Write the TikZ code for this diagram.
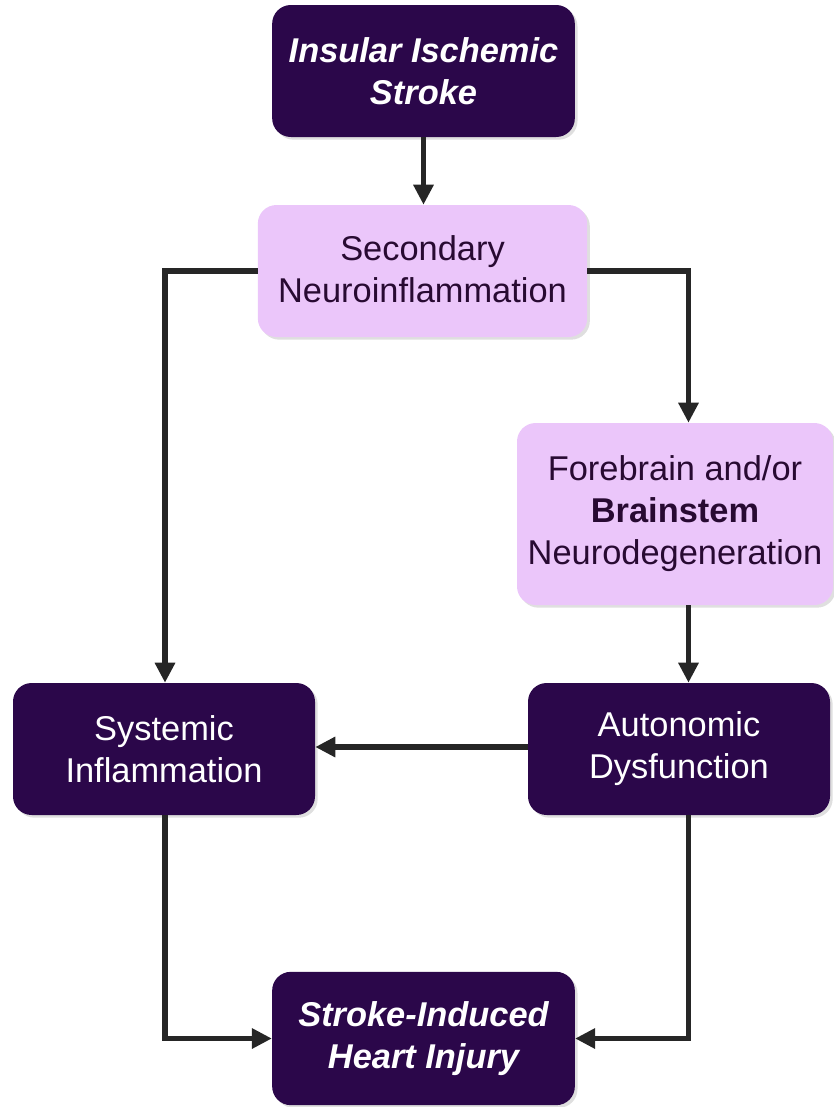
\documentclass[tikz,border=0pt]{standalone}
\usepackage{fontspec}
\setmainfont{Liberation Sans}
\usetikzlibrary{arrows.meta,shadows}
\definecolor{darkbox}{RGB}{43,7,74}
\definecolor{lightbox}{RGB}{235,198,250}
\definecolor{lighttext}{RGB}{40,10,50}
\definecolor{arrowgray}{RGB}{38,38,38}

\begin{document}
\begin{tikzpicture}
[
    x=0.75pt, y=-0.75pt,
    box/.style={rounded corners=14pt, align=center, inner sep=0pt,
        font=\fontsize{25.8}{31.5}\selectfont,
        drop shadow={shadow xshift=2pt, shadow yshift=-2pt, opacity=0.25}},
    dark/.style={box, fill=darkbox, text=white},
    light/.style={box, fill=lightbox, text=lighttext},
    link/.style={draw=arrowgray, line width=4.2pt, -{Triangle[length=15pt, width=14.5pt]}},
]
\useasboundingbox (0,0) rectangle (833,1107);

% boxes
\node [dark, minimum width=227pt, minimum height=99pt] (stroke) at (423.5,71)
{\bfseries\itshape Insular Ischemic\\ \bfseries\itshape Stroke};
\node [light, minimum width=247pt, minimum height=99pt] (second) at (422.5,271)
{Secondary\\Neuroinflammation\rule[-3pt]{0pt}{0pt}};
\node [light, minimum width=237pt, minimum height=136.5pt] (fore) at (675,514)
{Forebrain and/or\\ \textbf{Brainstem}\\Neurodegeneration};
\node [dark, minimum width=226.5pt, minimum height=99pt] (systemic) at (164,749)
{Systemic\\Inflammation};
\node [dark, minimum width=226.5pt, minimum height=99pt] (auto) at (679,749)
{Autonomic\\Dysfunction};
\node [dark, minimum width=227pt, minimum height=100pt] (heart) at (423.5,1038.5)
{\bfseries\itshape Stroke-Induced\\ \bfseries\itshape Heart Injury};

% routing columns
\coordinate (lx) at (165,0);
\coordinate (rx) at (688.5,0);

% connectors
\draw [link] (stroke.south) -- (stroke.south |- second.north);
\draw [link] (second.west) -| (lx |- systemic.north);
\draw [link] (second.east) -| (rx |- fore.north);
\draw [link] (rx |- fore.south) -- (rx |- auto.north);
\draw [link] ([yshift=1.5pt]auto.west) -- ([yshift=1.5pt]systemic.east);
\draw [link] (lx |- systemic.south) |- (heart.west);
\draw [link] (rx |- auto.south) |- (heart.east);
\end{tikzpicture}
\end{document}
